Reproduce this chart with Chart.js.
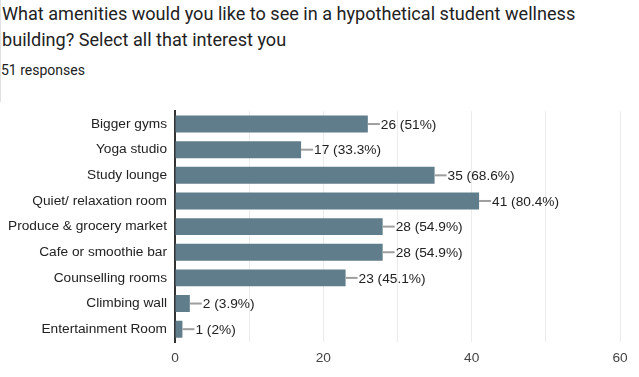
<!DOCTYPE html>
<html>
<head>
<meta charset="utf-8">
<script src="https://cdn.jsdelivr.net/npm/chart.js@4.4.0/dist/chart.umd.min.js"></script>
<style>
  html, body { margin: 0; padding: 0; background: #fff; }
  body { width: 639px; height: 377px; position: relative; overflow: hidden; }
  #edge { position: absolute; left: 0; top: 0; width: 1px; height: 102px; background: #e0e0e0; }
  #title { position: absolute; left: 2px; top: 1px; width: 630px; font-family: Roboto, sans-serif;
           font-size: 18.1px; line-height: 26px; color: #222; }
  #sub { position: absolute; left: 1px; top: 62px; font-family: Roboto, sans-serif; font-size: 14px; color: #222; }
  #wrap { position: absolute; left: 0; top: 95px; width: 639px; height: 282px; }
</style>
</head>
<body>
<div id="edge"></div>
<div id="title">What amenities would you like to see in a hypothetical student wellness building? Select all that interest you</div>
<div id="sub">51 responses</div>
<div id="wrap"><canvas id="chart"></canvas></div>
<script>
const categories = ['Bigger gyms', 'Yoga studio', 'Study lounge', 'Quiet/ relaxation room',
  'Produce & grocery market', 'Cafe or smoothie bar', 'Counselling rooms', 'Climbing wall', 'Entertainment Room'];
const counts = [26, 17, 35, 41, 28, 28, 23, 2, 1];
const totalResponses = 51;
const xTicks = [0, 20, 40, 60];

function pct(v) {
  let p = (v / totalResponses * 100).toFixed(1);
  if (p.endsWith('.0')) p = p.slice(0, -2);
  return v + ' (' + p + '%)';
}

// draws the little leader line and "n (p%)" label after each bar
const barLabels = {
  id: 'barLabels',
  afterDatasetsDraw(chart) {
    const ctx = chart.ctx;
    const meta = chart.getDatasetMeta(0);
    ctx.save();
    ctx.font = "13.7px Arial, 'Liberation Sans', sans-serif";
    ctx.textBaseline = 'middle';
    ctx.textAlign = 'left';
    meta.data.forEach((bar, i) => {
      ctx.strokeStyle = '#9e9e9e';
      ctx.lineWidth = 2;
      ctx.beginPath();
      ctx.moveTo(bar.x, bar.y);
      ctx.lineTo(bar.x + 12, bar.y);
      ctx.stroke();
      ctx.fillStyle = '#222';
      ctx.fillText(pct(counts[i]), bar.x + 13, bar.y + 1);
    });
    ctx.restore();
  }
};

new Chart(document.getElementById('chart'), {
  type: 'bar',
  data: {
    labels: categories,
    datasets: [{
      data: counts,
      backgroundColor: '#607d8b',
      barPercentage: 0.66,
      categoryPercentage: 1.0
    }]
  },
  options: {
    indexAxis: 'y',
    responsive: true,
    maintainAspectRatio: false,
    animation: false,
    layout: { padding: { top: 13, right: 19, left: 0, bottom: 0 } },
    plugins: { legend: { display: false }, tooltip: { enabled: false } },
    scales: {
      x: {
        min: 0,
        max: 60,
        afterBuildTicks(scale) {
          const t = [];
          for (let v = 0; v <= 60; v += 10) t.push({ value: v });
          scale.ticks = t;
        },
        afterFit(scale) { scale.height = 35; },
        grid: { color: '#ebebeb', lineWidth: 1, drawTicks: false },
        border: { display: false },
        ticks: {
          padding: 8,
          color: '#444',
          font: { family: "Arial, 'Liberation Sans', sans-serif", size: 13.7 },
          callback: (v) => xTicks.includes(v) ? v : ''
        }
      },
      y: {
        afterFit(scale) { scale.width = 175; },
        grid: { display: false, drawTicks: false },
        border: { display: true, color: '#333', width: 2 },
        ticks: {
          padding: 8,
          color: '#222',
          font: { family: "Arial, 'Liberation Sans', sans-serif", size: 13.7 }
        }
      }
    }
  },
  plugins: [barLabels]
});
</script>
</body>
</html>
